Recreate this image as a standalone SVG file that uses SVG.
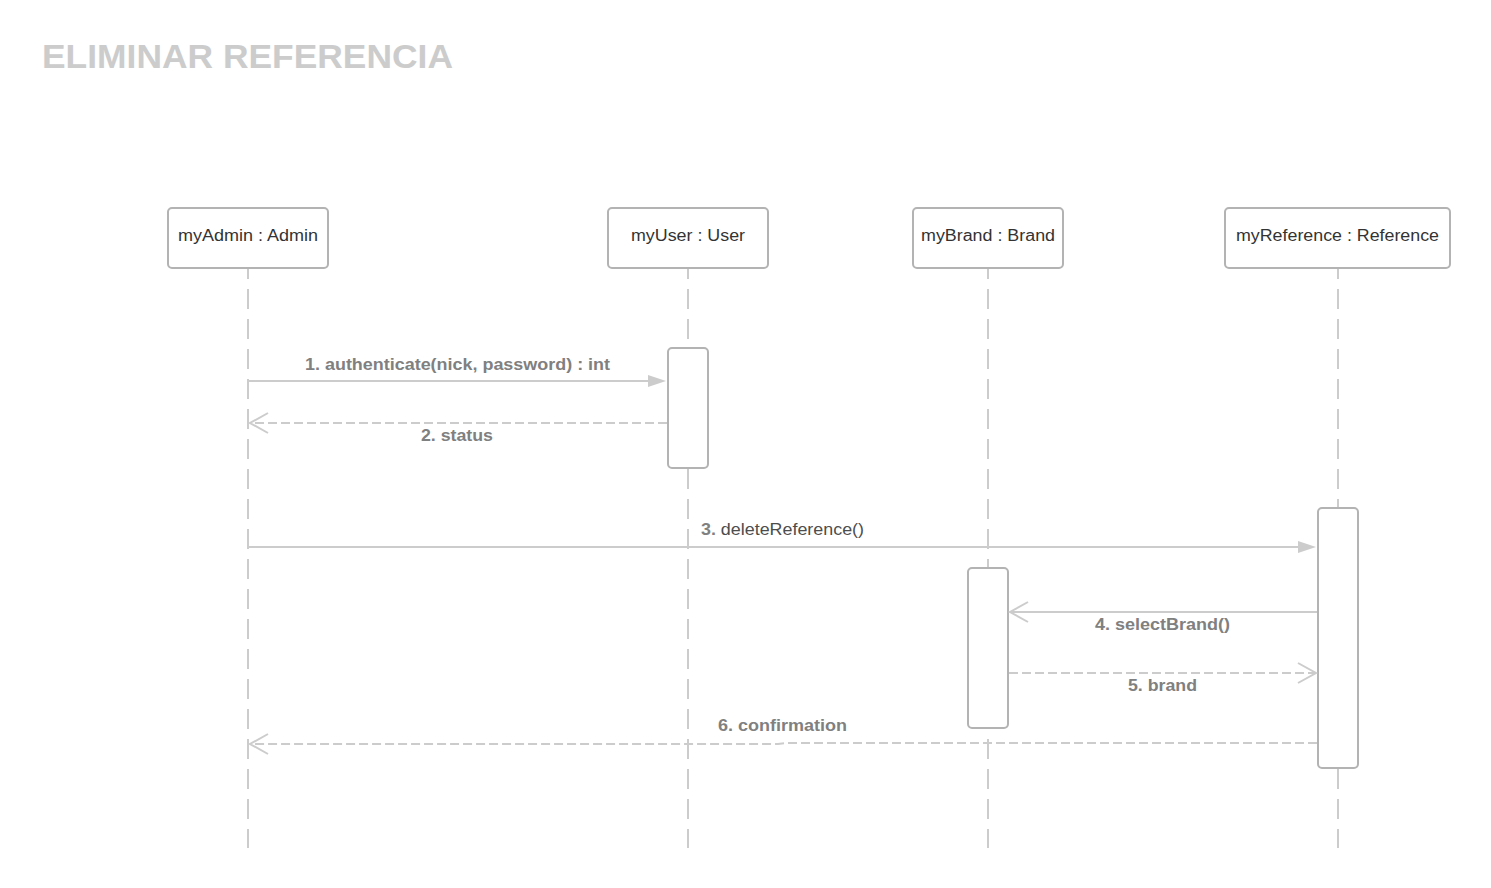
<svg xmlns="http://www.w3.org/2000/svg" width="1491" height="888" viewBox="0 0 1491 888">
<style>
.title{font-family:"Liberation Sans",Arial,sans-serif;font-weight:bold;font-size:33px;fill:#cccccc}
.box{fill:#ffffff;stroke:#b3b3b3;stroke-width:2}
.nlabel{font-family:"Liberation Sans",Arial,sans-serif;font-size:16px;fill:#333333}
.life{stroke:#cccccc;stroke-width:2;stroke-dasharray:20 10;stroke-dashoffset:9;fill:none}
.msg{stroke:#cccccc;stroke-width:2;fill:none}
.ret{stroke:#cccccc;stroke-width:2;fill:none;stroke-dasharray:9 4}
.mlabel{font-family:"Liberation Sans",Arial,sans-serif;font-size:16px;font-weight:bold;fill:#808080}
.head{fill:#cccccc;stroke:none}
.open{fill:none;stroke:#cccccc;stroke-width:2}
</style>
<rect width="1491" height="888" fill="#ffffff"/>
<text class="title" x="42" y="68" textLength="411" lengthAdjust="spacingAndGlyphs">ELIMINAR REFERENCIA</text>

<g id="lifelines">
<line class="life" x1="248" y1="268" x2="248" y2="848"/>
<line class="life" x1="688" y1="268" x2="688" y2="848"/>
<line class="life" x1="988" y1="268" x2="988" y2="848"/>
<line class="life" x1="1338" y1="268" x2="1338" y2="848"/>
</g>

<g id="myAdmin">
<rect class="box" x="168" y="208" width="160" height="60" rx="4"/>
<text class="nlabel" x="178" y="241" textLength="140" lengthAdjust="spacingAndGlyphs">myAdmin : Admin</text>
</g>
<g id="myUser">
<rect class="box" x="608" y="208" width="160" height="60" rx="4"/>
<text class="nlabel" x="631" y="241" textLength="114" lengthAdjust="spacingAndGlyphs">myUser : User</text>
</g>
<g id="myBrand">
<rect class="box" x="913" y="208" width="150" height="60" rx="4"/>
<text class="nlabel" x="921" y="241" textLength="134" lengthAdjust="spacingAndGlyphs">myBrand : Brand</text>
</g>
<g id="myReference">
<rect class="box" x="1225" y="208" width="225" height="60" rx="4"/>
<text class="nlabel" x="1236" y="241" textLength="203" lengthAdjust="spacingAndGlyphs">myReference : Reference</text>
</g>

<g id="activation-user">
<rect class="box" x="668" y="348" width="40" height="120" rx="4"/>
</g>
<g id="activation-reference">
<rect class="box" x="1318" y="508" width="40" height="260" rx="4"/>
</g>
<g id="activation-brand">
<rect class="box" x="968" y="568" width="40" height="160" rx="4"/>
</g>

<g id="connectors">
<line class="msg" x1="248" y1="381" x2="652" y2="381"/>
<path class="head" d="M666,381 L648,375 L648,387 Z"/>
<text class="mlabel" x="305" y="370" textLength="305" lengthAdjust="spacingAndGlyphs">1. authenticate(nick, password) : int</text>

<line class="ret" x1="667" y1="423" x2="250" y2="423"/>
<path class="open" d="M268,413 L250,423 L268,433"/>
<text class="mlabel" x="421" y="441" textLength="72" lengthAdjust="spacingAndGlyphs">2. status</text>

<line class="msg" x1="248" y1="547" x2="1302" y2="547"/>
<path class="head" d="M1316,547 L1298,541 L1298,553 Z"/>
<text class="mlabel" x="701" y="535" textLength="163" lengthAdjust="spacingAndGlyphs">3. <tspan font-weight="normal" fill="#4d4d4d">deleteReference()</tspan></text>

<line class="msg" x1="1317" y1="612" x2="1010" y2="612"/>
<path class="open" d="M1028,602 L1010,612 L1028,622"/>
<text class="mlabel" x="1095" y="630" textLength="135" lengthAdjust="spacingAndGlyphs">4. selectBrand()</text>

<line class="ret" x1="1009" y1="673" x2="1316" y2="673"/>
<path class="open" d="M1298,663 L1316,673 L1298,683"/>
<text class="mlabel" x="1128" y="691" textLength="69" lengthAdjust="spacingAndGlyphs">5. brand</text>

<polyline class="ret" points="1317,743 786,743 778,744 250,744"/>
<path class="open" d="M268,734 L250,744 L268,754"/>
<text class="mlabel" x="718" y="731" textLength="129" lengthAdjust="spacingAndGlyphs">6. confirmation</text>
</g>
</svg>
